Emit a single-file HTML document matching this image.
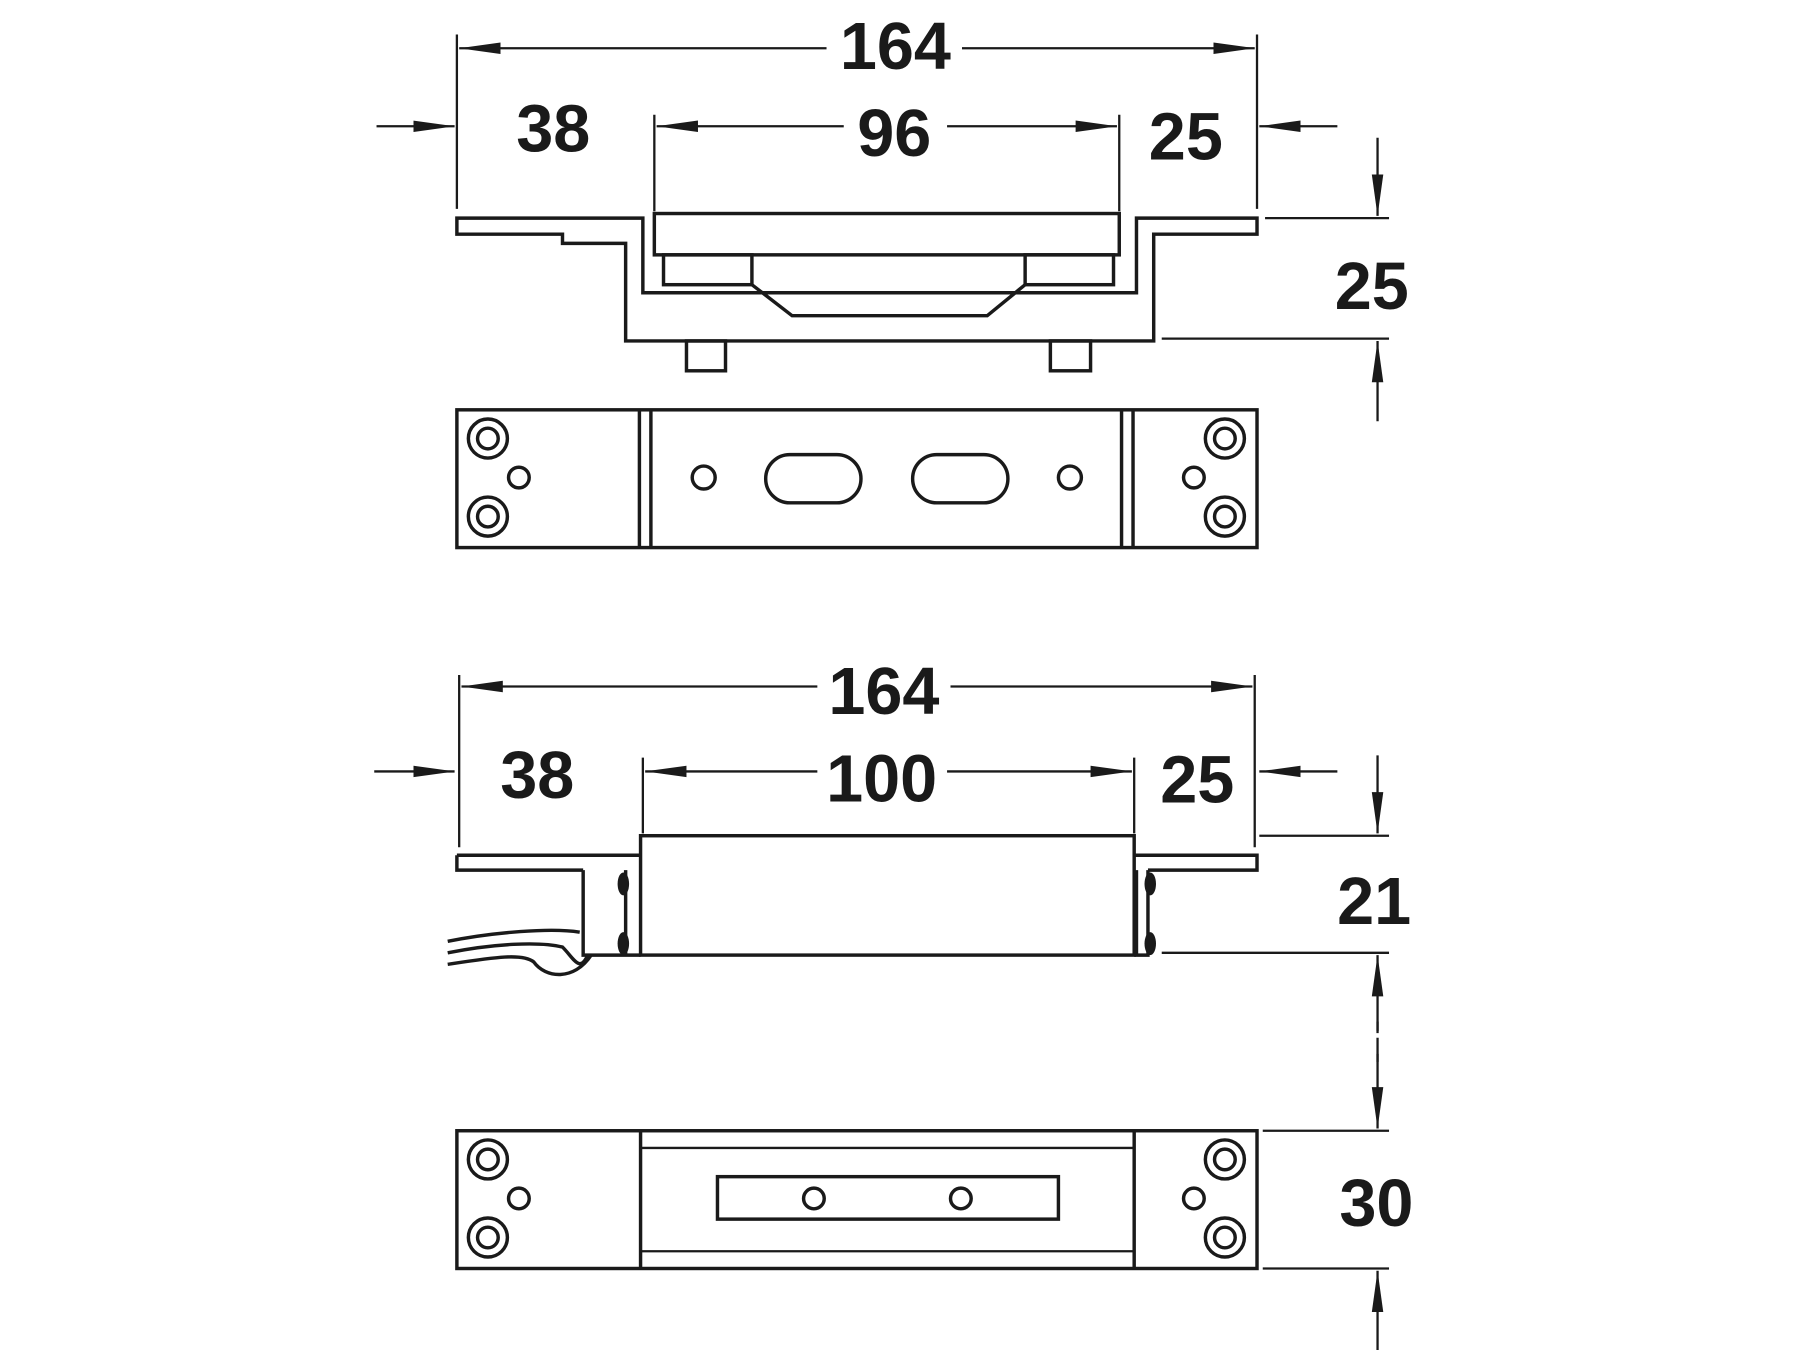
<!DOCTYPE html>
<html><head><meta charset="utf-8"><style>html,body{margin:0;padding:0;background:#fff}svg{display:block}</style></head>
<body>
<svg width="1800" height="1350" viewBox="0 0 1568 1176" xmlns="http://www.w3.org/2000/svg">
<defs>
<marker id="a" markerWidth="36" markerHeight="12" refX="36" refY="6" orient="auto" markerUnits="userSpaceOnUse">
<path d="M0,1 L36,6 L0,11 Z" fill="#1a1a1a"/></marker>
</defs>
<g stroke="#1a1a1a" stroke-width="2" fill="none">
<line x1="398" y1="30" x2="398" y2="182"/><line x1="1095" y1="30" x2="1095" y2="182"/>
<line x1="720" y1="42" x2="400" y2="42" marker-end="url(#a)"/><line x1="838" y1="42" x2="1093" y2="42" marker-end="url(#a)"/>
<line x1="328" y1="110" x2="396" y2="110" marker-end="url(#a)"/>
<line x1="1165" y1="110" x2="1097" y2="110" marker-end="url(#a)"/>
<line x1="570" y1="100" x2="570" y2="184"/><line x1="975" y1="100" x2="975" y2="184"/>
<line x1="735" y1="110" x2="572" y2="110" marker-end="url(#a)"/><line x1="825" y1="110" x2="973" y2="110" marker-end="url(#a)"/>
<line x1="1102" y1="190" x2="1210" y2="190"/><line x1="1012" y1="295" x2="1210" y2="295"/>
<line x1="1200" y1="120" x2="1200" y2="188" marker-end="url(#a)"/>
<line x1="1200" y1="367" x2="1200" y2="297" marker-end="url(#a)"/>
</g>
<g stroke="#1a1a1a" stroke-width="3" fill="none" stroke-linejoin="miter">
<path d="M398,190 H560 V255 H990 V190 H1095 V204 H1005 V297 H545 V212 H490 V204 H398 Z"/>
<rect x="570" y="186" width="405" height="36" fill="#fff"/>
<rect x="578" y="222" width="77" height="26"/><rect x="893" y="222" width="77" height="26"/>
<polyline points="655,248 690,275 860,275 893,248"/>
<rect x="598" y="297" width="34" height="26"/><rect x="915" y="297" width="35" height="26"/>
<rect x="398" y="357" width="697" height="120"/>
<line x1="557" y1="357" x2="557" y2="477"/><line x1="567" y1="357" x2="567" y2="477"/>
<line x1="977" y1="357" x2="977" y2="477"/><line x1="987" y1="357" x2="987" y2="477"/>
<circle cx="425" cy="382" r="17"/><circle cx="425" cy="382" r="9"/>
<circle cx="425" cy="450" r="17"/><circle cx="425" cy="450" r="9"/>
<circle cx="1067" cy="382" r="17"/><circle cx="1067" cy="382" r="9"/>
<circle cx="1067" cy="450" r="17"/><circle cx="1067" cy="450" r="9"/>
<circle cx="452" cy="416" r="9"/><circle cx="1040" cy="416" r="9"/>
<circle cx="613" cy="416" r="10"/><circle cx="932" cy="416" r="10"/>
<rect x="667" y="396" width="83" height="42" rx="21"/><rect x="795" y="396" width="83" height="42" rx="21"/>
</g>
<g stroke="#1a1a1a" stroke-width="2" fill="none">
<line x1="400" y1="588" x2="400" y2="738"/><line x1="1093" y1="588" x2="1093" y2="738"/>
<line x1="712" y1="598" x2="402" y2="598" marker-end="url(#a)"/><line x1="828" y1="598" x2="1091" y2="598" marker-end="url(#a)"/>
<line x1="326" y1="672" x2="396" y2="672" marker-end="url(#a)"/>
<line x1="1165" y1="672" x2="1097" y2="672" marker-end="url(#a)"/>
<line x1="560" y1="660" x2="560" y2="726"/><line x1="988" y1="660" x2="988" y2="726"/>
<line x1="712" y1="672" x2="562" y2="672" marker-end="url(#a)"/><line x1="825" y1="672" x2="986" y2="672" marker-end="url(#a)"/>
<line x1="1097" y1="728" x2="1210" y2="728"/><line x1="1012" y1="830" x2="1210" y2="830"/>
<line x1="1200" y1="658" x2="1200" y2="726" marker-end="url(#a)"/>
<line x1="1200" y1="900" x2="1200" y2="832" marker-end="url(#a)"/>
<line x1="1200" y1="912" x2="1200" y2="983" marker-end="url(#a)"/>
<line x1="1200" y1="890" x2="1200" y2="925" stroke-dasharray="8,6"/>
<line x1="1100" y1="985" x2="1210" y2="985"/><line x1="1100" y1="1105" x2="1210" y2="1105"/>
<line x1="1200" y1="1176" x2="1200" y2="1107" marker-end="url(#a)"/>
</g>
<g stroke="#1a1a1a" stroke-width="3" fill="none">
<path d="M398,745 H558 M398,745 V758 H508 M988,745 H1095 V758 H1000"/>
<rect x="558" y="728" width="430" height="104"/>
<path d="M508,758 V832 H558 M545,758 V832"/>
<path d="M1000,758 V832 H988 M990,758 V832"/>
<path d="M390,820 C430,812 480,808 505,812 M390,830 C430,822 470,820 490,825 C500,835 505,848 512,832 M390,840 C430,834 455,830 465,838 C475,852 500,855 515,832"/>
<rect x="398" y="985" width="697" height="120"/>
<line x1="558" y1="985" x2="558" y2="1105"/><line x1="988" y1="985" x2="988" y2="1105"/>
<line x1="558" y1="1000" x2="988" y2="1000" stroke-width="2"/><line x1="558" y1="1090" x2="988" y2="1090" stroke-width="2"/>
<rect x="625" y="1025" width="297" height="37"/>
<circle cx="709" cy="1044" r="9"/><circle cx="837" cy="1044" r="9"/>
<circle cx="425" cy="1010" r="17"/><circle cx="425" cy="1010" r="9"/>
<circle cx="425" cy="1078" r="17"/><circle cx="425" cy="1078" r="9"/>
<circle cx="1067" cy="1010" r="17"/><circle cx="1067" cy="1010" r="9"/>
<circle cx="1067" cy="1078" r="17"/><circle cx="1067" cy="1078" r="9"/>
<circle cx="452" cy="1044" r="9"/><circle cx="1040" cy="1044" r="9"/>
</g>
<g fill="#1a1a1a">
<ellipse cx="543" cy="770" rx="5" ry="10"/><ellipse cx="543" cy="822" rx="5" ry="10"/>
<ellipse cx="1002" cy="770" rx="5" ry="10"/><ellipse cx="1002" cy="822" rx="5" ry="10"/>
</g>
<g font-family="Liberation Sans, sans-serif" font-weight="bold" font-size="58" fill="#1a1a1a" text-anchor="middle">
<text x="780" y="60">164</text>
<text x="482" y="132">38</text>
<text x="779" y="136">96</text>
<text x="1033" y="139">25</text>
<text x="1195" y="269">25</text>
<text x="770" y="622">164</text>
<text x="468" y="695">38</text>
<text x="768" y="698">100</text>
<text x="1043" y="699">25</text>
<text x="1197" y="805">21</text>
<text x="1199" y="1068">30</text>
</g>
</svg>
</body></html>
